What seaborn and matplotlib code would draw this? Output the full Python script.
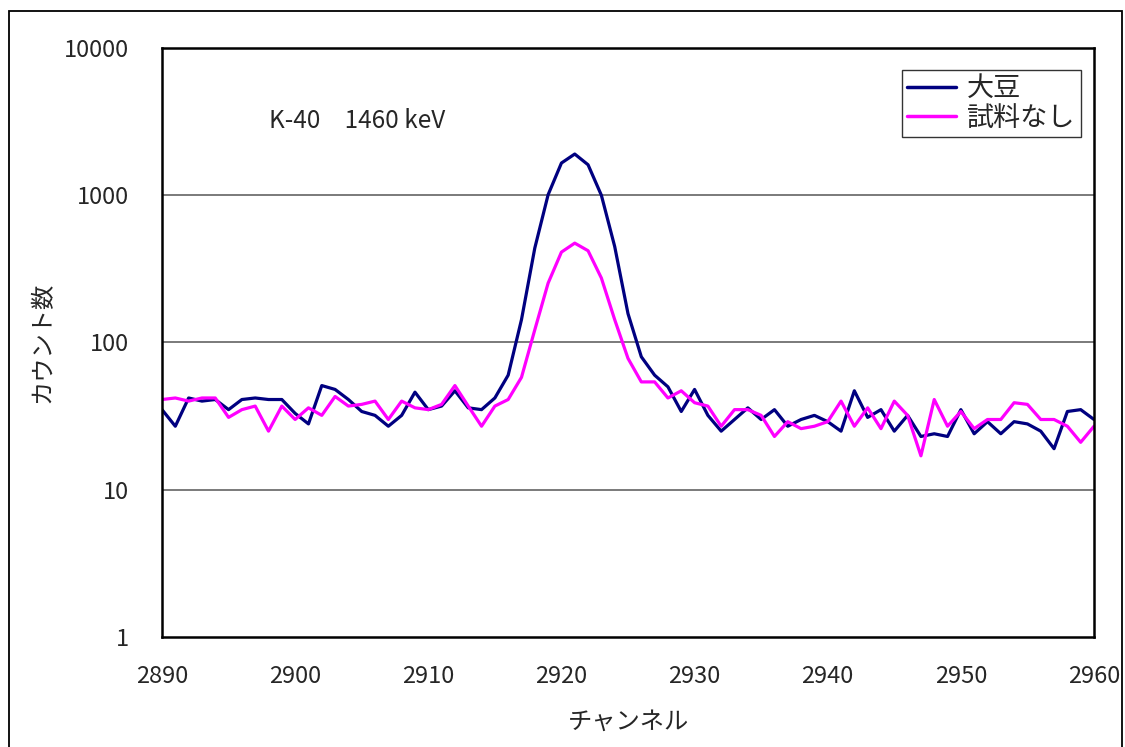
import numpy as np
import pandas as pd
import matplotlib
matplotlib.use("Agg")
import matplotlib.pyplot as plt
import matplotlib.ticker as mticker
from matplotlib.patches import Rectangle
import seaborn as sns

channels = list(range(2890, 2961))
soybean = [35, 27, 42, 40, 41, 35, 41, 42, 41, 41,
           33, 28, 51, 48, 41, 34, 32, 27, 32, 46,
           35, 37, 47, 36, 35, 42, 60, 143, 438, 1008,
           1655, 1905, 1611, 1000, 449, 157, 80, 60, 50, 34,
           48, 32, 25, 30, 36, 30, 35, 27, 30, 32,
           29, 25, 47, 31, 35, 25, 32, 23, 24, 23,
           35, 24, 29, 24, 29, 28, 25, 19, 34, 35,
           30]
blank = [41, 42, 40, 42, 42, 31, 35, 37, 25, 37,
         30, 36, 32, 43, 37, 38, 40, 30, 40, 36,
         35, 38, 51, 37, 27, 37, 41, 58, 122, 253,
         411, 473, 420, 274, 143, 78, 54, 54, 42, 47,
         39, 37, 27, 35, 35, 32, 23, 29, 26, 27,
         29, 40, 27, 36, 26, 40, 32, 17, 41, 27,
         34, 26, 30, 30, 39, 38, 30, 30, 27, 21,
         27]
series_names = ["大豆", "試料なし"]
series_colors = ["#000080", "#FF00FF"]
yticks = [1, 10, 100, 1000, 10000]
xticks = [2890, 2900, 2910, 2920, 2930, 2940, 2950, 2960]
annotation = "K-40\u30001460 keV"
xlabel = "チャンネル"
ylabel = "カウント数"

df = pd.DataFrame({
    "channel": channels * 2,
    "count": soybean + blank,
    "series": [series_names[0]] * len(channels) + [series_names[1]] * len(channels),
})

sns.set_style("white")
plt.rcParams["font.family"] = ["Noto Sans CJK JP", "DejaVu Sans"]

fig = plt.figure(figsize=(11.25, 7.47), dpi=100)
ax = fig.add_axes([162 / 1125, 110 / 747, 932 / 1125, 589 / 747])

sns.lineplot(data=df, x="channel", y="count", hue="series",
             hue_order=series_names, palette=series_colors,
             linewidth=2.3, ax=ax, legend=True)

ax.set_yscale("log")
ax.set_ylim(1, 10000)
ax.set_xlim(2890, 2960)
ax.set_yticks(yticks)
ax.yaxis.set_major_formatter(mticker.FuncFormatter(lambda v, p: f"{int(round(v))}"))
ax.yaxis.set_minor_locator(mticker.NullLocator())
ax.set_xticks(xticks)
ax.grid(False)
for v in yticks[1:-1]:
    ax.axhline(v, color="#707070", linewidth=1.3, zorder=0)

ax.tick_params(axis="x", direction="in", length=9, width=1, color="#555555",
               labelsize=17, pad=20)
ax.tick_params(axis="y", length=0, labelsize=17, pad=24)
for s in ax.spines.values():
    s.set_color("black")
    s.set_linewidth(1.8)

ax.set_xlabel(xlabel, fontsize=17.5, labelpad=15)
ax.set_ylabel(ylabel, fontsize=17.5, labelpad=6)

ax.text(0.115, 0.876, annotation, transform=ax.transAxes, fontsize=17.5,
        va="center", ha="left")

handles, labels = ax.get_legend_handles_labels()
leg = ax.legend(handles, labels, loc="upper right", bbox_to_anchor=(0.986, 0.963),
                borderaxespad=0, fontsize=19.5, frameon=True, fancybox=False,
                edgecolor="black", handlelength=1.8, handletextpad=0.4,
                labelspacing=0.1, borderpad=0.2)
leg.get_frame().set_linewidth(1.0)
for line in leg.get_lines():
    line.set_linewidth(2.5)

fig.patches.append(Rectangle((9 / 1125, -0.02), 1113 / 1125, 0.02 + (747 - 10.5) / 747,
                             transform=fig.transFigure, fill=False,
                             edgecolor="black", linewidth=1.3))

fig.savefig("out.png", dpi=100, facecolor="white")
